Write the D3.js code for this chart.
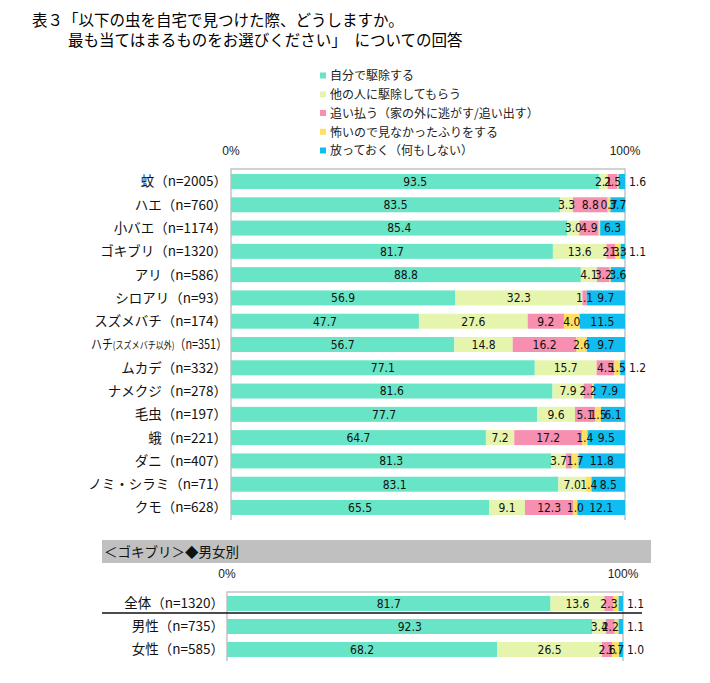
<html>
<head>
<meta charset="utf-8">
<script src="https://d3js.org/d3.v7.min.js"></script>
</head>
<body style="margin:0;background:white">
<svg></svg>
<script>
    const jp = "'Noto Sans CJK JP', sans-serif"
    const num = "'Liberation Sans', Arial, sans-serif"
    const narrow = "'Liberation Sans Narrow', 'DejaVu Sans Condensed', sans-serif"

    // answers (series) and their colours
    const answers = ["自分で駆除する", "他の人に駆除してもらう", "追い払う（家の外に逃がす/追い出す）", "怖いので見なかったふりをする", "放っておく（何もしない）"]
    const colors = ["#68e5c6", "#e6f5ae", "#f78fb0", "#ffe060", "#10bdf0"]

    // upper table: by insect
    const insects = ["蚊（n=2005）", "ハエ（n=760）", "小バエ（n=1174）", "ゴキブリ（n=1320）", "アリ（n=586）", "シロアリ（n=93）", "スズメバチ（n=174）", "ハチ（n=351）", "ムカデ（n=332）", "ナメクジ（n=278）", "毛虫（n=197）", "蛾（n=221）", "ダニ（n=407）", "ノミ・シラミ（n=71）", "クモ（n=628）"]
    const selfRemove = [93.5, 83.5, 85.4, 81.7, 88.8, 56.9, 47.7, 56.7, 77.1, 81.6, 77.7, 64.7, 81.3, 83.1, 65.5]
    const askOthers = [2.1, 3.3, 3.0, 13.6, 4.1, 32.3, 27.6, 14.8, 15.7, 7.9, 9.6, 7.2, 3.7, 7.0, 9.1]
    const chaseOut = [2.5, 8.8, 4.9, 2.3, 3.2, 1.1, 9.2, 16.2, 4.5, 2.2, 5.1, 17.2, 1.5, 0, 12.3]
    const pretend = [0.3, 0.7, 0.4, 1.3, 0.3, 0, 4.0, 2.6, 1.5, 0.4, 1.5, 1.4, 1.7, 1.4, 1.0]
    const leaveIt = [1.6, 3.7, 6.3, 1.1, 3.6, 9.7, 11.5, 9.7, 1.2, 7.9, 6.1, 9.5, 11.8, 8.5, 12.1]

    // lower table: cockroach by gender
    const groups = ["全体（n=1320）", "男性（n=735）", "女性（n=585）"]
    const gSelf = [81.7, 92.3, 68.2]
    const gOthers = [13.6, 3.4, 26.5]
    const gChase = [2.3, 2.2, 2.6]
    const gPretend = [1.3, 1.0, 1.7]
    const gLeave = [1.1, 1.1, 1.0]

    // labels that the original leaves out
    const hiddenLabels = ["ダニ（n=407）|2", "全体（n=1320）|3", "男性（n=735）|3"]

    const width = 710
    const height = 683

    const svg = d3.select("svg")
        .attr("width", width)
        .attr("height", height)
        .attr("viewBox", [0, 0, width, height])
        .style("display", "block")

    // title
    svg.append("text").attr("x", 32).attr("y", 26)
        .attr("font-family", jp).attr("font-size", 15.5)
        .text("表３「以下の虫を自宅で見つけた際、どうしますか。")
    svg.append("text").attr("x", 68).attr("y", 46)
        .attr("font-family", jp).attr("font-size", 15.5)
        .text("最も当てはまるものをお選びください」　についての回答")

    // legend
    const legend = svg.append("g")
    answers.forEach((a, i) => {
        const cy = 76 + i * 18.75
        legend.append("rect").attr("x", 320).attr("y", cy - 3.5).attr("width", 6).attr("height", 6).attr("fill", colors[i])
        legend.append("text").attr("x", 330).attr("y", cy).attr("dy", "0.36em")
            .attr("font-family", jp).attr("font-size", 12).attr("fill", "#222").text(a)
    })

    function drawStack(cats, series, x, y, labelX) {
        const rows = cats.map((c, i) => {
            const r = { cat: c }
            series.forEach((s, k) => r[k] = s[i])
            return r
        })
        const stack = d3.stack().keys(d3.range(series.length))(rows)
        const [y0, y1] = y.range()
        const g = svg.append("g")

        // frame lines
        g.append("path").attr("fill", "none").attr("stroke", "#c4c4c4").attr("stroke-width", 1.5)
            .attr("d", `M${x(0)},${y1}V${y0}H${x(100)}V${y1}`)

        stack.forEach((layer, k) => {
            g.append("g").attr("fill", colors[k])
                .selectAll("rect").data(layer).join("rect")
                .attr("x", d => x(d[0]))
                .attr("width", d => x(d[1]) - x(d[0]))
                .attr("y", d => y(d.data.cat))
                .attr("height", y.bandwidth())
        })

        // value labels
        stack.forEach((layer, k) => {
            layer.forEach(d => {
                const v = d[1] - d[0]
                if (v < 0.5 || hiddenLabels.includes(d.data.cat + "|" + k)) return
                const outside = k === series.length - 1 && v < 2
                g.append("text")
                    .attr("x", outside ? x(100) + 4 : (x(d[0]) + x(d[1])) / 2)
                    .attr("y", y(d.data.cat) + y.bandwidth() / 2)
                    .attr("dy", "0.36em")
                    .attr("text-anchor", outside ? "start" : "middle")
                    .attr("font-family", narrow).attr("font-size", 12).attr("fill", "#111")
                    .text(d3.format(".1f")(v))
            })
        })

        // category labels
        cats.forEach(c => {
            const t = g.append("text")
                .attr("x", labelX).attr("y", y(c) + y.bandwidth() / 2).attr("dy", "0.36em")
                .attr("text-anchor", "end").attr("font-family", jp).attr("font-size", 13.5).attr("fill", "#111")
            if (c.startsWith("ハチ")) {
                t.append("tspan").text("ハチ")
                t.append("tspan").attr("font-size", 10).text("(スズメバチ以外)")
                t.append("tspan").text(c.slice(2))
                const w = t.node().getComputedTextLength()
                const fit = 136
                if (w > fit) t.attr("transform", `translate(${labelX},0) scale(${fit / w},1) translate(${-labelX},0)`)
            } else {
                t.text(c)
            }
        })

        // 0% / 100%
        g.append("text").attr("x", x(0)).attr("y", y0 - 14).attr("text-anchor", "middle")
            .attr("font-family", num).attr("font-size", 12).attr("fill", "#222").text("0%")
        g.append("text").attr("x", x(100)).attr("y", y0 - 14).attr("text-anchor", "middle")
            .attr("font-family", num).attr("font-size", 12).attr("fill", "#222").text("100%")
        return g
    }

    // upper chart
    const xTop = d3.scaleLinear([0, 100], [231, 625])
    const yTop = d3.scaleBand(insects, [169, 520]).paddingInner(0.356).paddingOuter(0.215)
    drawStack(insects, [selfRemove, askOthers, chaseOut, pretend, leaveIt], xTop, yTop, 227)

    // lower chart header band
    svg.append("rect").attr("x", 102).attr("y", 540).attr("width", 549).attr("height", 23).attr("fill", "#c0c0c0")
    svg.append("text").attr("x", 104).attr("y", 557)
        .attr("font-family", jp).attr("font-size", 13.5).attr("fill", "#111")
        .text("＜ゴキブリ＞◆男女別")

    const xBot = d3.scaleLinear([0, 100], [227, 623])
    const yBot = d3.scaleBand(groups, [592, 661]).paddingInner(0.348).paddingOuter(0.174)
    drawStack(groups, [gSelf, gOthers, gChase, gPretend, gLeave], xBot, yBot, 224)

    // separator between total and gender rows
    svg.append("line").attr("x1", 102).attr("x2", 642).attr("y1", 613).attr("y2", 613)
        .attr("stroke", "#111").attr("stroke-width", 1.5)
</script>
</body>
</html>
